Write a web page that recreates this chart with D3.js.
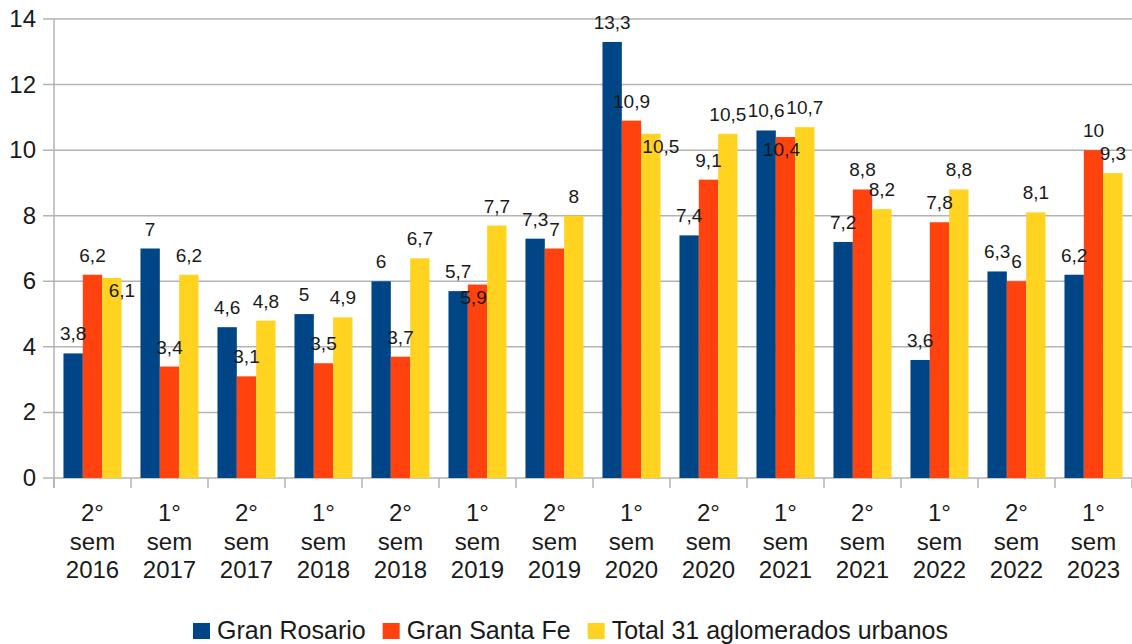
<!DOCTYPE html>
<html>
<head>
<meta charset="utf-8">
<title>Gran Rosario / Gran Santa Fe</title>
<script src="https://d3js.org/d3.v7.min.js"></script>
<style>
    body {
        margin: 0;
        overflow: hidden;
        background: #fff;
    }
    text {
        font-family: "Liberation Sans", Arial, sans-serif;
        fill: #1a1a1a;
    }
</style>
</head>
<body>
<script>
    const categories = [
        ["2°", "sem", "2016"], ["1°", "sem", "2017"], ["2°", "sem", "2017"], ["1°", "sem", "2018"],
        ["2°", "sem", "2018"], ["1°", "sem", "2019"], ["2°", "sem", "2019"], ["1°", "sem", "2020"],
        ["2°", "sem", "2020"], ["1°", "sem", "2021"], ["2°", "sem", "2021"], ["1°", "sem", "2022"],
        ["2°", "sem", "2022"], ["1°", "sem", "2023"]
    ];
    const seriesNames = ["Gran Rosario", "Gran Santa Fe", "Total 31 aglomerados urbanos"];
    const rosario = [3.8, 7, 4.6, 5, 6, 5.7, 7.3, 13.3, 7.4, 10.6, 7.2, 3.6, 6.3, 6.2];
    const santaFe = [6.2, 3.4, 3.1, 3.5, 3.7, 5.9, 7, 10.9, 9.1, 10.4, 8.8, 7.8, 6, 10];
    const total31 = [6.1, 6.2, 4.8, 4.9, 6.7, 7.7, 8, 10.5, 10.5, 10.7, 8.2, 8.8, 8.1, 9.3];
    const yTicks = [0, 2, 4, 6, 8, 10, 12, 14];
    const colors = ["#004586", "#ff420e", "#ffd320"];

    const width = 1132;
    const height = 644;
    const plotLeft = 54, plotRight = 1132, plotTop = 19, plotBottom = 478;

    const svg = d3.select("body")
        .append("svg")
        .attr("width", width)
        .attr("height", height);

    const x = d3.scaleBand()
        .domain(d3.range(categories.length))
        .range([plotLeft, plotRight])
        .padding(0);

    const inner = d3.scaleBand()
        .domain([0, 1, 2])
        .range([x.bandwidth() * 0.123, x.bandwidth() * 0.877])
        .padding(0);

    const y = d3.scaleLinear()
        .domain([0, 14])
        .range([plotBottom, plotTop]);

    // grid lines + y ticks
    svg.append("g")
        .selectAll("line")
        .data(yTicks)
        .join("line")
        .attr("x1", plotLeft - 11)
        .attr("x2", plotRight)
        .attr("y1", function(d) { return y(d); })
        .attr("y2", function(d) { return y(d); })
        .attr("stroke", "#b3b3b3")
        .attr("stroke-width", 1.5);

    svg.append("g")
        .selectAll("text")
        .data(yTicks)
        .join("text")
        .attr("x", plotLeft - 18)
        .attr("y", function(d) { return y(d) + 8; })
        .attr("text-anchor", "end")
        .style("font-size", "24px")
        .text(function(d) { return d; });

    // x ticks at category boundaries
    const bounds = d3.range(categories.length + 1).map(function(i) { return plotLeft + i * x.bandwidth(); });
    svg.append("g")
        .selectAll("line")
        .data(bounds)
        .join("line")
        .attr("x1", function(d) { return d; })
        .attr("x2", function(d) { return d; })
        .attr("y1", plotBottom)
        .attr("y2", plotBottom + 10)
        .attr("stroke", "#b3b3b3")
        .attr("stroke-width", 1.5);

    // y axis line
    svg.append("line")
        .attr("x1", plotLeft).attr("x2", plotLeft)
        .attr("y1", plotTop).attr("y2", plotBottom + 10)
        .attr("stroke", "#b3b3b3")
        .attr("stroke-width", 1.5);

    // category labels
    const catG = svg.append("g")
        .selectAll("text")
        .data(categories)
        .join("text")
        .attr("text-anchor", "middle")
        .style("font-size", "24px");
    catG.selectAll("tspan")
        .data(function(d, i) { return d.map(function(s) { return { s: s, i: i }; }); })
        .join("tspan")
        .attr("x", function(d) { return x(d.i) + x.bandwidth() / 2; })
        .attr("y", function(d, j) { return 521 + j * 28.5; })
        .text(function(d) { return d.s; });

    // bars
    const allSeries = [rosario, santaFe, total31];
    const barData = [];
    categories.forEach(function(c, i) {
        allSeries.forEach(function(s, k) {
            barData.push({ i: i, k: k, v: s[i] });
        });
    });

    svg.append("g")
        .selectAll("rect")
        .data(barData)
        .join("rect")
        .attr("x", function(d) { return x(d.i) + inner(d.k); })
        .attr("y", function(d) { return y(d.v); })
        .attr("width", inner.bandwidth())
        .attr("height", function(d) { return y(0) - y(d.v); })
        .attr("fill", function(d) { return colors[d.k]; });

    // data labels, with a simple collision step: if a label hits a neighbour, drop it below the bar top
    const fmt = function(v) { return String(v).replace(".", ","); };
    const labelG = svg.append("g");
    const placed = [];
    barData.forEach(function(d) {
        const cx = x(d.i) + inner(d.k) + inner.bandwidth() / 2;
        const t = labelG.append("text")
            .attr("text-anchor", "middle")
            .style("font-size", "19px")
            .text(fmt(d.v));
        const w = t.node().getComputedTextLength();
        let cy = y(d.v) - 19;
        let box = { x0: cx - w / 2, x1: cx + w / 2, y0: cy - 9, y1: cy + 9, i: d.i };
        const hit = placed.some(function(b) {
            return b.i === d.i && b.x1 > box.x0 + 1.5 && b.x0 < box.x1 - 1.5 && b.y1 > box.y0 && b.y0 < box.y1;
        });
        let cxx = cx;
        if (hit) {
            cy = y(d.v) + 13;
            cxx = cx + (d.k === 2 ? 10 : -4);
            box = { x0: cxx - w / 2, x1: cxx + w / 2, y0: cy - 9, y1: cy + 9, i: d.i };
        }
        placed.push(box);
        t.attr("x", cxx).attr("y", cy + 6);
    });

    // legend
    const legend = svg.append("g");
    let lx = 193;
    seriesNames.forEach(function(name, k) {
        legend.append("rect")
            .attr("x", lx)
            .attr("y", 623)
            .attr("width", 17)
            .attr("height", 16)
            .attr("fill", colors[k]);
        const t = legend.append("text")
            .attr("x", lx + 24)
            .attr("y", 639)
            .style("font-size", "25px")
            .text(name);
        lx += 24 + t.node().getComputedTextLength() + 17;
    });
</script>
</body>
</html>
